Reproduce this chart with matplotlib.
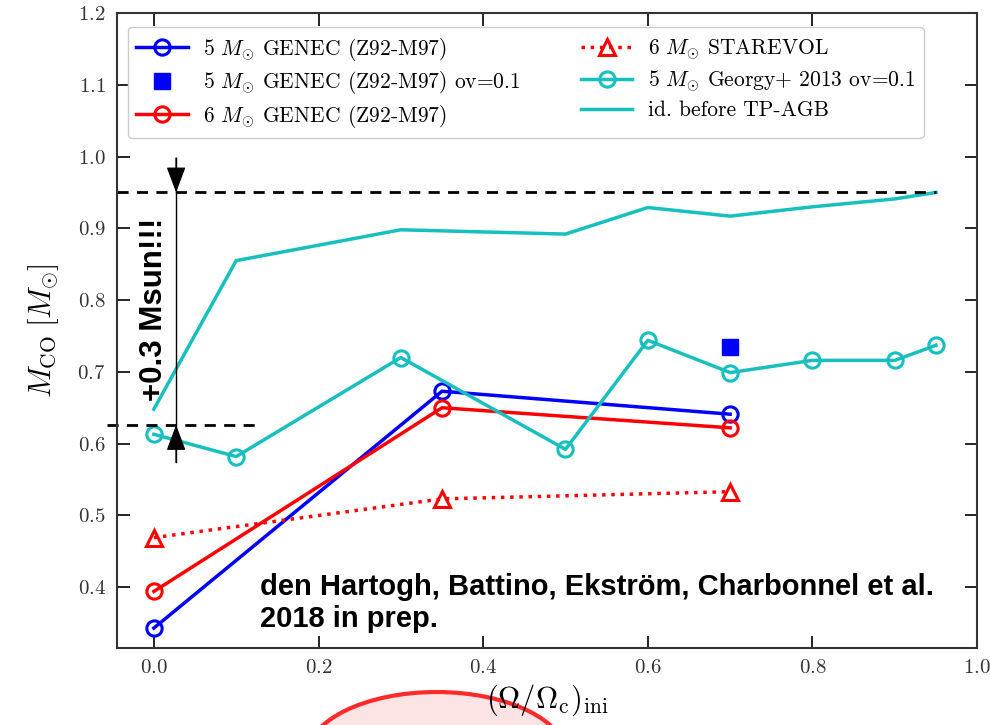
import matplotlib
matplotlib.use("Agg")
import matplotlib.pyplot as plt
from matplotlib.patches import Ellipse

plt.rcParams["font.family"] = "serif"
plt.rcParams["font.serif"] = ["cmr10"]
plt.rcParams["mathtext.fontset"] = "cm"
plt.rcParams["axes.formatter.use_mathtext"] = True

# CO core masses vs initial rotation rate
omega_genec = [0.0, 0.35, 0.7]
mco_genec5 = [0.343, 0.673, 0.641]
mco_genec6 = [0.394, 0.650, 0.622]

omega_starevol = [0.0, 0.35, 0.7]
mco_starevol6 = [0.469, 0.523, 0.533]

omega_ov = [0.7]
mco_genec5_ov = [0.734]

omega_georgy = [0.0, 0.1, 0.3, 0.5, 0.6, 0.7, 0.8, 0.9, 0.95]
mco_georgy = [0.613, 0.582, 0.720, 0.592, 0.744, 0.699, 0.716, 0.716, 0.737]
mco_georgy_pre = [0.648, 0.855, 0.898, 0.892, 0.929, 0.917, 0.930, 0.941, 0.950]

mco_top = 0.95
mco_bottom = 0.626

fig = plt.figure(figsize=(9.9, 7.25), dpi=100)
ax = fig.add_axes([0.118, 0.106, 0.869, 0.876])

cyan = "#17bfbf"
mk = dict(marker="o", markersize=11, markerfacecolor="none", markeredgewidth=2.2)

ax.plot(omega_genec, mco_genec5, color="blue", lw=2.5, label=r"5 $M_{\odot}$ GENEC (Z92-M97)", **mk)
ax.plot(omega_ov, mco_genec5_ov, ls="none", marker="s", markersize=11, color="blue",
        label=r"5 $M_{\odot}$ GENEC (Z92-M97) ov=0.1")
ax.plot(omega_genec, mco_genec6, color="red", lw=2.5, label=r"6 $M_{\odot}$ GENEC (Z92-M97)", **mk)
ax.plot(omega_starevol, mco_starevol6, color="red", lw=2.5, ls=":", marker="^", markersize=11,
        markerfacecolor="none", markeredgewidth=2.2, label=r"6 $M_{\odot}$ STAREVOL")
ax.plot(omega_georgy, mco_georgy, color=cyan, lw=2.5, label=r"5 $M_{\odot}$ Georgy+ 2013 ov=0.1", **mk)
ax.plot(omega_georgy, mco_georgy_pre, color=cyan, lw=2.5, label="id. before TP-AGB")

# the +0.3 Msun gap between the dashed levels
ax.plot([-0.045, 0.95], [mco_top, mco_top], "k--", lw=2, dashes=(4, 3))
ax.plot([-0.057, 0.126], [mco_bottom, mco_bottom], "k--", lw=2, dashes=(4, 3), clip_on=False)
xa = 0.027
ax.plot([xa, xa], [0.998, 0.574], color="k", lw=1)
arrow = dict(arrowstyle="-|>,head_length=0.8,head_width=0.3", color="k", lw=1,
             shrinkA=0, shrinkB=0, mutation_scale=20)
ax.annotate("", xy=(xa, mco_top), xytext=(xa, 0.998), arrowprops=arrow)
ax.annotate("", xy=(xa, mco_bottom), xytext=(xa, 0.574), arrowprops=arrow)
ax.text(0.0, 0.787, "+0.3 Msun!!!", rotation=90, ha="center", va="center",
        fontsize=22.5, fontweight="bold", family="Liberation Sans")

ax.text(0.129, 0.42, "den Hartogh, Battino, Ekstr\u00f6m, Charbonnel et al.\n2018 in prep.",
        ha="left", va="top", fontsize=21, fontweight="bold", family="Liberation Sans",
        linespacing=1.2)

ax.set_xlim(-0.045, 1.0)
ax.set_ylim(0.315, 1.2)
ax.set_xticks([0.0, 0.2, 0.4, 0.6, 0.8, 1.0])
ax.set_yticks([0.4, 0.5, 0.6, 0.7, 0.8, 0.9, 1.0, 1.1, 1.2])
ax.tick_params(direction="in", top=True, right=True, length=9, width=1.2,
               labelsize=15, labelcolor="#333333", pad=8)
for s in ax.spines.values():
    s.set_linewidth(1.5)
    s.set_color("#333333")

ax.set_xlabel(r"$(\Omega/\Omega_{\rm c})_{\rm ini}$", fontsize=22, labelpad=4)
ax.set_ylabel(r"$M_{\rm CO}\;[M_{\odot}]$", fontsize=22, labelpad=12)

ax.legend(loc="upper left", ncol=2, fontsize=15.5, handlelength=2.4, frameon=True,
          framealpha=1, edgecolor="#cccccc", borderaxespad=0.5, columnspacing=2.8,
          labelspacing=0.3, handletextpad=0.7, borderpad=0.4,
          bbox_to_anchor=(0.0, 0.995))

ell = Ellipse((0.441, -0.044), 0.263, 0.179, transform=fig.transFigure,
              facecolor="#fde4e4", edgecolor="#ff2a2a", lw=3, zorder=-1)
fig.patches.append(ell)

fig.savefig("out.png", dpi=100)
